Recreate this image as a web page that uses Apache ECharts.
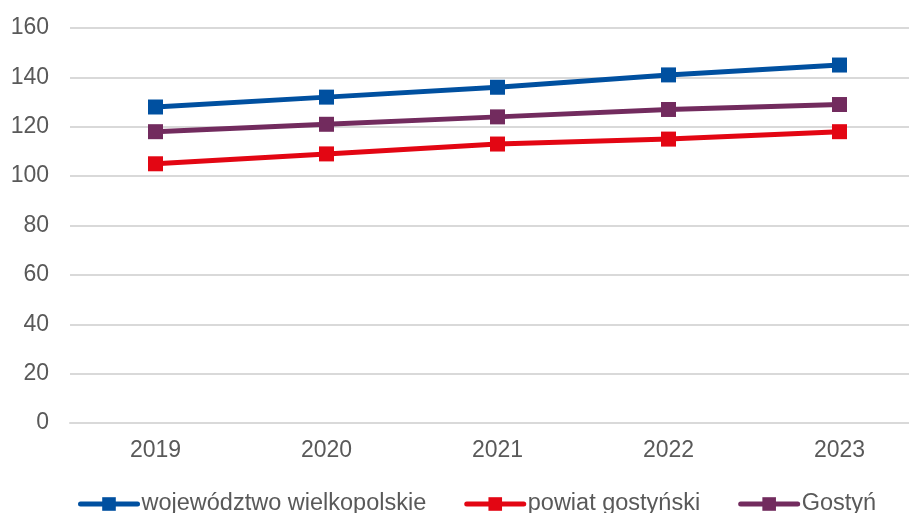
<!DOCTYPE html>
<html><head><meta charset="utf-8">
<script src="https://cdn.jsdelivr.net/npm/echarts@6/dist/echarts.min.js"></script>
<style>html,body{margin:0;padding:0;background:#fff;overflow:hidden}#c{width:925px;height:513px}</style>
</head><body><div id="c"></div>
<script>
const categories = ['2019','2020','2021','2022','2023'];
const wielkopolskie = [128,132,136,141,145];
const gostynski = [105,109,113,115,118];
const gostyn = [118,121,124,127,129];
const names = ['województwo wielkopolskie','powiat gostyński','Gostyń'];
const colors = ['#0050A0','#E30613','#722B5E'];
const chart = echarts.init(document.getElementById('c'));
function s(name,data,color){return {name,type:'line',data,symbol:'rect',symbolSize:15,
  lineStyle:{width:5,color,cap:'round'},itemStyle:{color},color};}
chart.setOption({
  animation:false,
  grid:{left:70,right:0,top:28,bottom:90},
  legend:{top:492,left:78,padding:0,itemWidth:57,itemHeight:17,itemGap:38,
    lineStyle:{width:5,cap:'round'},
    textStyle:{fontFamily:'Liberation Sans',fontSize:23.5,color:'#595959',padding:[0,0,0,-1]},
    data:names},
  xAxis:{type:'category',data:categories,boundaryGap:true,
    axisLine:{show:true,lineStyle:{color:'#d9d9d9',width:2}},axisTick:{show:false},
    axisLabel:{fontFamily:'Liberation Sans',fontSize:23,color:'#595959',margin:16}},
  yAxis:{type:'value',min:0,max:160,interval:20,
    splitLine:{lineStyle:{color:'#d9d9d9',width:2}},axisLine:{show:false},axisTick:{show:false},
    axisLabel:{fontFamily:'Liberation Sans',fontSize:23,color:'#595959',margin:21}},
  series:[s(names[0],wielkopolskie,colors[0]),s(names[1],gostynski,colors[1]),s(names[2],gostyn,colors[2])]
});
</script></body></html>
